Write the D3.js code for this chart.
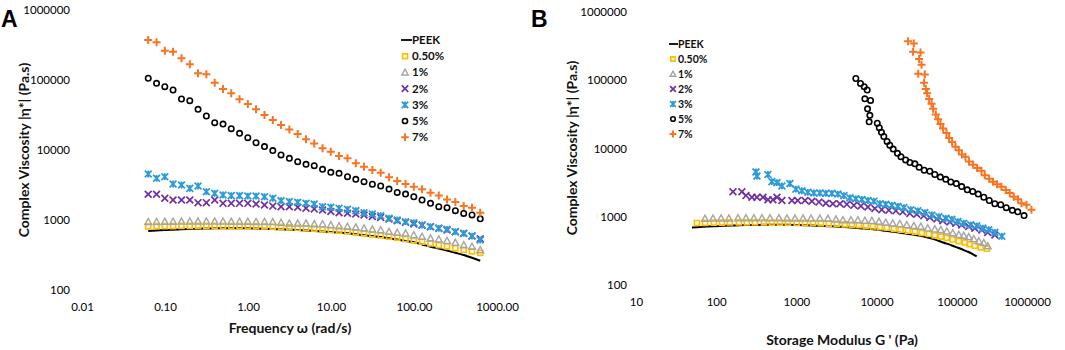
<!DOCTYPE html>
<html>
<head>
<meta charset="utf-8">
<script src="https://cdn.jsdelivr.net/npm/d3@7"></script>
<style>
  body { margin: 0; background: #fff; }
  svg { display: block; font-family: Lato, "Open Sans", sans-serif; }
</style>
</head>
<body>
<svg width="1065" height="350"></svg>
<script>
// frequency sweep (rad/s), 10 points per decade
const omega = [0.0628, 0.0791, 0.0995, 0.125, 0.158, 0.199, 0.25, 0.315, 0.397, 0.5,
  0.628, 0.791, 0.995, 1.25, 1.58, 1.99, 2.5, 3.15, 3.97, 5,
  6.28, 7.91, 9.95, 12.5, 15.8, 19.9, 25, 31.5, 39.7, 50,
  62.8, 79.1, 99.5, 125, 158, 199, 250, 315, 397, 500, 628];

// complex viscosity |eta*| (Pa.s)
const peekEta = [697, 708, 720, 728, 736, 744, 752, 756, 760, 762, 763, 763, 762, 758, 752, 745, 736, 728, 720, 709,
  697, 685, 672, 659, 645, 625, 605, 588, 570, 548, 525, 503, 480, 448, 416, 390, 365, 340, 316, 289, 262];
const eta050 = [810, 815, 820, 820, 825, 825, 825, 825, 825, 820, 820, 820, 815, 815, 810, 805, 795, 786, 775, 762,
  752, 736, 720, 705, 690, 665, 645, 624, 605, 578, 559, 535, 511, 490, 464, 439, 420, 397, 376, 356, 340];
const eta1 = [940, 945, 950, 950, 955, 955, 955, 955, 955, 955, 950, 950, 950, 945, 945, 940, 916, 896, 896, 896,
  877, 877, 849, 821, 803, 786, 760, 736, 720, 681, 659, 645, 611, 578, 547, 530, 507, 474, 439, 416, 373];
const eta2 = [2330, 2330, 2040, 1930, 1930, 1930, 1770, 1770, 1930, 1730, 1730, 1730, 1730, 1690, 1640, 1580, 1550, 1550, 1520, 1470,
  1440, 1390, 1320, 1270, 1250, 1220, 1180, 1120, 1090, 1030, 977, 926, 877, 840, 800, 760, 720, 680, 640, 590, 540];
const eta3 = [4540, 3940, 4160, 3270, 3160, 2830, 3060, 2540, 2400, 2280, 2230, 2230, 2200, 2200, 2150, 2040, 1890, 1830, 1790, 1730,
  1690, 1550, 1520, 1470, 1420, 1360, 1270, 1220, 1150, 1060, 1000, 946, 916, 849, 803, 760, 736, 681, 645, 590, 518];
const eta5 = [106000, 89700, 80400, 72000, 53500, 50700, 38100, 30600, 24600, 23500, 20200, 17300, 15000, 12700, 11200, 9800, 8500, 7600, 6800, 6240,
  5970, 5300, 4800, 4640, 4160, 3810, 3530, 3240, 3060, 2770, 2480, 2350, 2150, 1930, 1730, 1550, 1500, 1360, 1240, 1180, 1040];
const eta7 = [373000, 345000, 262000, 254000, 204000, 168000, 125000, 121000, 91600, 74400, 64600, 53000, 45400, 38100, 31600, 26800, 22800, 19700, 16900, 14200,
  12400, 10600, 9460, 8200, 7600, 6450, 5780, 5180, 4740, 4070, 3600, 3270, 2990, 2740, 2460, 2230, 1970, 1810, 1580, 1500, 1270];

// storage modulus G' (Pa)
const peekG = [49.9, 62.8, 78.9, 99.3, 125, 157, 198, 249, 313, 394, 495, 623, 783, 985, 1240, 1560, 1960, 2470, 3110, 3800,
  4640, 5670, 6930, 8470, 10400, 12700, 15500, 18900, 23100, 28300, 34600, 41100, 48800, 58000, 68800, 81800, 94400, 112000, 129000, 154000, 177000];
const g050 = [57.5, 72.4, 93.8, 118, 148, 192, 241, 304, 394, 495, 623, 783, 1010, 1280, 1610, 2020, 2540, 3200, 4020, 4920,
  6010, 7350, 8980, 11000, 13400, 16400, 20000, 24500, 30000, 36600, 44800, 53200, 63200, 75000, 89100, 106000, 126000, 145000, 168000, 199000, 237000];
const g1 = [72.4, 91.1, 115, 144, 187, 235, 295, 372, 468, 605, 762, 958, 1210, 1520, 1960, 2470, 3110, 3800, 4780, 5840,
  7140, 8730, 10700, 13000, 15900, 19500, 23800, 29100, 35600, 43500, 53200, 63200, 75000, 89100, 106000, 122000, 141000, 163000, 188000, 217000, 243000];
const g2 = [162, 209, 235, 279, 322, 383, 442, 510, 572, 660, 879, 1040, 1280, 1560, 1910, 2330, 2850, 3490, 4260, 5210,
  6360, 7780, 9510, 11600, 14200, 17400, 21200, 26000, 31700, 38800, 46100, 56400, 66900, 81800, 97200, 115000, 141000, 168000, 205000, 243000, 298000];
const g3 = [313, 322, 442, 495, 572, 660, 830, 985, 1170, 1390, 1650, 1960, 2330, 2770, 3290, 3910, 4640, 5510, 6550, 7780,
  9240, 11000, 13000, 15500, 18400, 21900, 26700, 32700, 39900, 48800, 59700, 72900, 86600, 103000, 122000, 149000, 177000, 211000, 250000, 298000, 364000];
const g5 = [5510, 6300, 7000, 7630, 7140, 8410, 7710, 8240, 8070, 10200, 10800, 11500, 12300, 13500, 14600, 16100, 18200, 20100, 23000, 26000,
  30000, 33900, 39200, 46100, 53200, 62300, 72900, 84200, 98600, 115000, 135000, 158000, 185000, 217000, 254000, 298000, 353000, 414000, 492000, 576000, 690000];
const g7 = [24700, 29100, 28500, 35300, 33900, 36300, 33000, 39900, 39100, 41100, 42700, 45200, 48400, 50700, 54700, 58500, 62600, 67500, 74400, 80200,
  87400, 96300, 106000, 116000, 128000, 142000, 160000, 179000, 203000, 223000, 253000, 283000, 318000, 360000, 408000, 457000, 513000, 580000, 640000, 739000, 853000];

const seriesNames = ["PEEK", "0.50%", "1%", "2%", "3%", "5%", "7%"];
const yTicks = [100, 1000, 10000, 100000, 1000000];
const xTicksA = [0.01, 0.1, 1, 10, 100, 1000];
const xTicksB = [10, 100, 1000, 10000, 100000, 1000000];

const series = [
  { name: seriesNames[0], eta: peekEta, g: peekG, type: "line", color: "#000" },
  { name: seriesNames[1], eta: eta050, g: g050, type: "square", color: "#FFC000" },
  { name: seriesNames[2], eta: eta1, g: g1, type: "triangle", color: "#A5A5A5" },
  { name: seriesNames[3], eta: eta2, g: g2, type: "x", color: "#7030A0" },
  { name: seriesNames[4], eta: eta3, g: g3, type: "star", color: "#2E9BD9" },
  { name: seriesNames[5], eta: eta5, g: g5, type: "circle", color: "#000" },
  { name: seriesNames[6], eta: eta7, g: g7, type: "plus", color: "#FA7321" }
];

const svg = d3.select("svg");

// marker path for a given type and half size
const markerPath = (type, h) => {
  if (type === "square") return `M${-h},${-h}h${2 * h}v${2 * h}h${-2 * h}Z`;
  if (type === "triangle") return `M0,${-h}L${h},${h * 0.8}L${-h},${h * 0.8}Z`;
  if (type === "x") return `M${-h},${-h}L${h},${h}M${-h},${h}L${h},${-h}`;
  if (type === "star") return `M${-h},${-h}L${h},${h}M${-h},${h}L${h},${-h}M0,${-h}V${h}`;
  if (type === "plus") return `M${-h},0H${h}M0,${-h}V${h}`;
  return "";
};
const markerSize = { square: 2.5, triangle: 3.4, x: 3.4, star: 3.4, plus: 4 };
const markerWidth = { square: 1.7, triangle: 1.4, x: 1.7, star: 1.8, plus: 2 };

function drawMarker(g, type, color, x, y, scale = 1) {
  if (type === "circle") {
    g.append("circle").attr("cx", x).attr("cy", y).attr("r", 2.7 * scale)
      .attr("fill", "none").attr("stroke", color).attr("stroke-width", 1.6);
  } else {
    g.append("path").attr("transform", `translate(${x},${y})`)
      .attr("d", markerPath(type, markerSize[type] * scale))
      .attr("fill", "none").attr("stroke", color)
      .attr("stroke-width", markerWidth[type]);
  }
}

function drawPanel(opt) {
  const x = d3.scaleLog().domain(opt.xDomain).range(opt.xRange);
  const y = d3.scaleLog().domain([100, 1000000]).range(opt.yRange);
  const g = svg.append("g");

  // y axis labels
  const yAxis = g.append("g")
    .attr("transform", `translate(${opt.xRange[0]},0)`)
    .call(d3.axisLeft(y).tickValues(yTicks).tickSize(0).tickPadding(opt.yPad).tickFormat(d3.format("d")));
  yAxis.select(".domain").remove();
  yAxis.selectAll("text").attr("font-size", 11.5).attr("fill", "#000").attr("font-family", "Lato");

  // x axis labels
  const xAxis = g.append("g")
    .attr("transform", `translate(0,${opt.yRange[0]})`)
    .call(d3.axisBottom(x).tickValues(opt.xTicks).tickSize(0).tickPadding(opt.xPad).tickFormat(opt.xFormat));
  xAxis.select(".domain").remove();
  xAxis.selectAll("text").attr("font-size", 11.5).attr("fill", "#000").attr("font-family", "Lato");
  if (opt.lastDx) xAxis.selectAll("text").filter((d, i, n) => i === n.length - 1).attr("dx", opt.lastDx);

  // axis titles
  g.append("text")
    .attr("x", opt.xTitle[0]).attr("y", opt.xTitle[1])
    .attr("text-anchor", "middle").attr("font-size", 14).attr("font-weight", 700)
    .attr("fill", "#111").text(opt.xLabel);
  g.append("text")
    .attr("transform", `translate(${opt.yTitle[0]},${opt.yTitle[1]}) rotate(-90)`)
    .attr("text-anchor", "middle").attr("font-size", 14).attr("font-weight", 700)
    .attr("fill", "#111").text("Complex Viscosity |η*| (Pa.s)");

  // panel letter
  g.append("text").attr("x", opt.letterPos[0]).attr("y", opt.letterPos[1])
    .attr("font-family", "Liberation Sans").attr("font-size", 23).attr("font-weight", 700)
    .text(opt.letter);

  // data
  series.forEach(s => {
    const xs = opt.xKey === "omega" ? omega : s.g;
    const pts = s.eta.map((v, i) => [x(xs[i]), y(v)]);
    if (s.type === "line") {
      g.append("path").datum(pts)
        .attr("d", d3.line().curve(d3.curveMonotoneX))
        .attr("fill", "none").attr("stroke", s.color).attr("stroke-width", 2);
    } else {
      const mg = g.append("g");
      pts.forEach(p => drawMarker(mg, s.type, s.color, p[0], p[1]));
    }
  });

  // legend
  const lg = g.append("g");
  series.forEach((s, i) => {
    const ly = opt.legend.y + i * opt.legend.dy;
    const lx = opt.legend.x;
    if (s.type === "line") {
      lg.append("line").attr("x1", lx - 4).attr("x2", lx + opt.legend.lineLen - 4)
        .attr("y1", ly).attr("y2", ly).attr("stroke", "#000").attr("stroke-width", 1.8);
    } else {
      drawMarker(lg, s.type, s.color, lx, ly, opt.legend.scale);
    }
    lg.append("text").attr("x", s.type === "line" ? lx + opt.legend.lineLen - 4 : opt.legend.textX)
      .attr("y", ly).attr("dy", "0.35em")
      .attr("font-size", opt.legend.fontSize).attr("font-weight", 700).attr("fill", "#111")
      .text(s.name);
  });
}

drawPanel({
  letter: "A", letterPos: [1, 27],
  xKey: "omega",
  xDomain: [0.01, 1000], xRange: [82, 497], yRange: [290, 10],
  xTicks: xTicksA, xFormat: d3.format(".2f"),
  yPad: 12, xPad: 13,
  xLabel: "Frequency ω (rad/s)", xTitle: [290, 333], yTitle: [29, 150],
  legend: { x: 405, y: 40, dy: 16.2, textX: 412, lineLen: 11, fontSize: 11.5, scale: 0.95 }
});

drawPanel({
  letter: "B", letterPos: [531, 27],
  xKey: "g",
  xDomain: [10, 1000000], xRange: [636, 1037], yRange: [285, 12],
  xTicks: xTicksB, xFormat: d3.format("d"),
  yPad: 9, xPad: 13, lastDx: -10,
  xLabel: "Storage Modulus G ' (Pa)", xTitle: [842, 345], yTitle: [577, 148],
  legend: { x: 673, y: 44, dy: 15, textX: 678, lineLen: 9, fontSize: 10.5, scale: 0.85 }
});
</script>
</body>
</html>
